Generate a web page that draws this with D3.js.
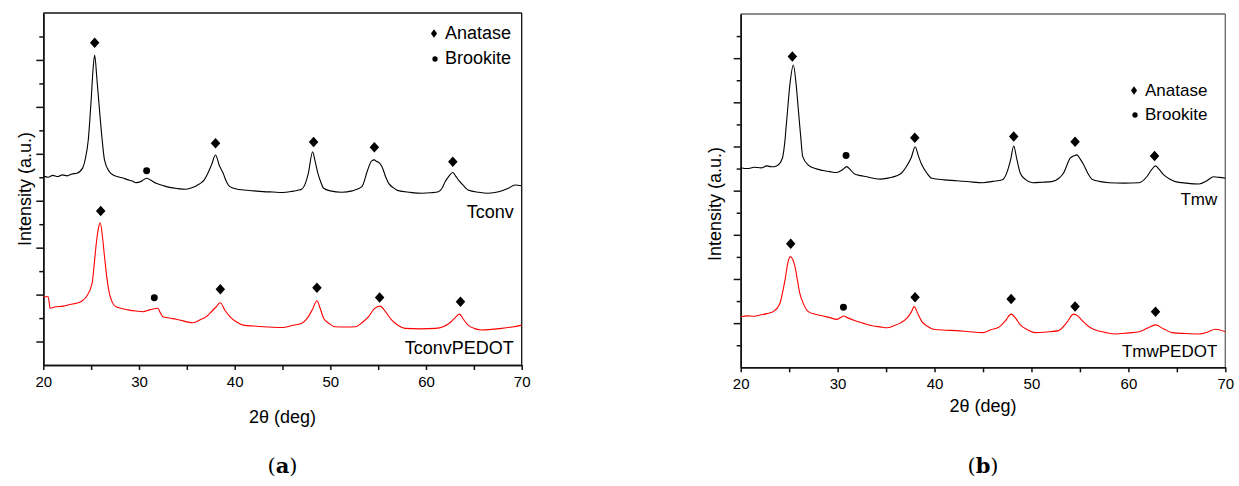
<!DOCTYPE html>
<html>
<head>
<meta charset="utf-8">
<script src="https://cdn.jsdelivr.net/npm/d3@7"></script>
<style>
  body { margin: 0; background: #fff; }
  text { font-family: "Liberation Sans", Arial, sans-serif; fill: #000; }
</style>
</head>
<body>
<script>
// 2theta (deg), intensity (a.u.)
let tconv = [[20,805],[20.5,800],[21,808],[21.5,803],[22,810],[22.5,806],[23,814],[23.5,817],[24.1,839],[24.4,880],[24.7,959],[25.0,1129],[25.2,1260],[25.37,1321],[25.6,1220],[25.9,1074],[26.15,960],[26.4,873],[26.9,824],[27.3,810],[27.8,802],[28.3,797],[28.8,790],[29.3,784],[29.7,777],[30.2,782],[30.5,790],[30.8,796],[31.2,788],[31.8,774],[32.5,765],[33.2,757],[34,752],[34.9,749],[35.6,756],[36.3,771],[36.8,788],[37.2,817],[37.6,855],[38.0,895],[38.4,850],[38.8,817],[39.1,785],[39.5,760],[40.2,750],[40.9,746],[42,742],[43,739],[44,737],[45,735],[46,740],[46.6,745],[47.0,749],[47.4,775],[47.7,817],[48.15,909],[48.4,870],[48.7,817],[49.0,780],[49.3,753],[50,742],[51.2,736],[52.3,742],[53.3,760],[53.9,831],[54.3,869],[54.6,874],[54.8,868],[55.0,865],[55.4,845],[55.8,800],[56.1,774],[56.6,755],[57.1,743],[58.3,736],[59.6,732],[60.5,734],[61.3,738],[61.7,755],[62.0,781],[62.4,805],[62.8,820],[63.1,805],[63.4,788],[63.9,765],[64.4,746],[65.5,736],[66.5,732],[67.6,738],[68.6,753],[69.3,767],[70,764]];
let tconvPedot = [[20,291],[20.5,291],[20.6,270],[20.7,242],[21.3,248],[22.1,251],[22.8,258],[23.45,263],[24,272],[24.5,291],[25.1,348],[25.3,420],[25.5,504],[25.75,580],[25.95,606],[26.2,540],[26.4,461],[26.65,370],[26.9,306],[27.2,268],[27.6,248],[28.3,240],[29.0,234],[29.7,230],[30.4,227],[31.2,236],[32.0,242],[32.2,225],[32.5,206],[33.2,200],[33.9,195],[34.8,186],[35.6,180],[36.5,195],[37.0,205],[37.4,220],[38.0,245],[38.5,265],[39.0,232],[39.5,206],[40.2,183],[40.9,170],[42,166],[43,163],[44,161],[45,160],[46,168],[47.0,178],[47.6,200],[48.1,234],[48.6,274],[48.95,240],[49.3,199],[49.9,176],[50.5,163],[51.5,162],[52.6,163],[53.3,180],[54.0,206],[54.6,240],[55.2,251],[55.8,225],[56.4,192],[57.1,168],[57.8,156],[59.4,154],[61.0,156],[62.5,180],[63.0,200],[63.5,217],[63.9,195],[64.4,170],[65.1,155],[65.8,149],[67.9,156],[69,162],[70,170]];
let tmw = [[20,904],[20.7,900],[21.4,906],[22.1,903],[22.7,912],[23.2,908],[23.7,912],[24.3,947],[24.55,1020],[24.75,1120],[25.1,1290],[25.43,1369],[25.7,1290],[25.95,1166],[26.2,1040],[26.4,954],[26.98,916],[27.7,900],[28.5,891],[29.2,886],[29.9,882],[30.5,895],[30.94,909],[31.3,895],[31.8,874],[32.4,868],[33.0,863],[33.7,856],[34.4,852],[35.3,858],[36.1,867],[36.6,880],[37.1,909],[37.6,950],[38.0,999],[38.35,955],[38.7,916],[39.2,880],[39.7,856],[41,849],[42.3,845],[43.6,840],[45.0,836],[46,842],[47.0,849],[47.5,886],[47.85,940],[48.17,1002],[48.5,940],[48.85,879],[49.4,850],[50.1,836],[51.1,838],[52.1,841],[52.8,855],[53.3,879],[54.0,947],[54.4,958],[54.7,962],[55.0,945],[55.4,916],[55.8,880],[56.25,852],[57,842],[58.0,836],[59.5,834],[61.1,836],[61.9,863],[62.4,895],[62.8,912],[63.2,895],[63.65,871],[64.3,852],[64.85,841],[66,834],[67.3,830],[68.1,845],[68.8,863],[69.4,860],[70,856]];
let tmwPedot = [[20,229],[20.7,233],[21.4,231],[22.0,237],[22.7,243],[23.36,252],[24.05,290],[24.3,335],[24.57,395],[24.85,470],[25.1,501],[25.35,490],[25.6,456],[25.85,395],[26.1,335],[26.5,285],[26.98,252],[27.7,240],[28.5,232],[29.2,225],[29.9,217],[30.3,225],[30.6,232],[31.0,225],[31.6,214],[32.6,200],[33.7,187],[34.4,183],[35.1,179],[35.8,188],[36.4,199],[37.2,225],[37.6,250],[37.9,275],[38.3,240],[38.7,207],[39.3,185],[39.9,172],[41.1,168],[42.3,166],[43.6,161],[45,157],[45.8,170],[46.6,181],[47.3,210],[47.9,241],[48.4,220],[48.85,192],[49.6,170],[50.4,157],[51.6,160],[52.8,166],[53.6,200],[54.35,241],[54.8,232],[55.2,214],[55.9,185],[56.6,169],[57.6,158],[58.65,151],[60,156],[61.1,161],[62,178],[62.8,192],[63.6,175],[64.5,157],[65.9,153],[67.3,151],[68.2,160],[68.95,172],[70,161]];

// phase markers
let tconvAnatase = [[25.37,1373],[38.0,945],[48.25,950],[54.6,928],[62.8,866]];
let tconvBrookite = [[30.8,828]];
let tconvPedotAnatase = [[26.0,656],[38.5,323],[48.6,329],[55.15,288],[63.6,270]];
let tconvPedotBrookite = [[31.6,287]];
let tmwAnatase = [[25.33,1407],[37.96,1040],[48.17,1045],[54.5,1022],[62.7,957]];
let tmwBrookite = [[30.87,959]];
let tmwPedotAnatase = [[25.16,559],[37.99,317],[47.9,309],[54.5,275],[62.8,252]];
let tmwPedotBrookite = [[30.6,272]];

let xMajor = [20,30,40,50,60,70];
let xMinor = [25,35,45,55,65];
let legendLabels = ["Anatase","Brookite"];

let svg = d3.select("body").append("svg").attr("width",1239).attr("height",486)

let diamond = d3.symbol(d3.symbolSquare, 50)
let dot = d3.symbol(d3.symbolCircle, 38)

function panel(p) {
  let x = d3.scaleLinear().domain([20,70]).range([p.left,p.right])
  let y = d3.scaleLinear().domain([0,p.ymax]).range([p.bottom,p.top])
  let g = svg.append("g")

  // frame
  g.append("line").attr("x1",p.left).attr("x2",p.right).attr("y1",p.top).attr("y2",p.top)
    .attr("stroke",p.frame).attr("stroke-width",1.3)
  g.append("line").attr("x1",p.right).attr("x2",p.right).attr("y1",p.top).attr("y2",p.bottom)
    .attr("stroke",p.frame).attr("stroke-width",1.3)

  let xa = g.append("g").attr("transform","translate(0,"+p.bottom+")")
    .call(d3.axisBottom(x).tickValues(xMajor).tickSize(5).tickSizeOuter(0).tickFormat(d3.format("d")))
  g.append("g").attr("transform","translate(0,"+p.bottom+")")
    .call(d3.axisBottom(x).tickValues(xMinor).tickSize(5).tickSizeOuter(0).tickFormat(""))
  xa.selectAll("text").attr("font-size",15).attr("dy","0.9em").attr("font-family","Liberation Sans, Arial, sans-serif")

  g.append("g").attr("transform","translate("+p.left+",0)")
    .call(d3.axisLeft(y).tickValues(p.yMajor).tickSize(7).tickSizeOuter(0).tickFormat(""))
  g.append("g").attr("transform","translate("+p.left+",0)")
    .call(d3.axisLeft(y).tickValues(p.yMinor).tickSize(4).tickSizeOuter(0).tickFormat(""))

  g.selectAll(".domain, .tick line").attr("stroke","#111").attr("stroke-width",1.5)

  let line = d3.line().x(d=>x(d[0])).y(d=>y(d[1])).curve(d3.curveMonotoneX)
  g.append("path").datum(p.top1).attr("d",line).attr("fill","none").attr("stroke","#000").attr("stroke-width",1.1)
  g.append("path").datum(p.bot1).attr("d",line).attr("fill","none").attr("stroke","#ff0000").attr("stroke-width",1.1)

  g.selectAll(".ana").data(p.anatase).enter().append("path")
    .attr("d",diamond)
    .attr("transform",d=>"translate("+x(d[0])+","+y(d[1])+") scale(0.95,1.05) rotate(45)")
  g.selectAll(".bro").data(p.brookite).enter().append("path")
    .attr("d",dot)
    .attr("transform",d=>"translate("+x(d[0])+","+y(d[1])+")")

  // legend
  let lg = g.append("g")
  lg.append("path").attr("d",d3.symbol(d3.symbolSquare,26))
    .attr("transform","translate("+p.legX+","+(p.legY-5.5)+") scale(0.85,1.15) rotate(45)")
  lg.append("path").attr("d",d3.symbol(d3.symbolCircle,22))
    .attr("transform","translate("+(p.legX+1)+","+(p.legY+p.legGap-5)+")")
  lg.selectAll("text").data(legendLabels).enter().append("text")
    .attr("x",p.legX+11).attr("y",(d,i)=>p.legY+i*p.legGap)
    .attr("font-size",p.fs).text(d=>d)

  g.append("text").attr("x",p.right-8).attr("y",p.lab1Y).attr("text-anchor","end")
    .attr("font-size",p.fs).text(p.name1)
  g.append("text").attr("x",p.right-8).attr("y",p.lab2Y).attr("text-anchor","end")
    .attr("font-size",p.fs).text(p.name2)

  g.append("text").attr("x",(p.left+p.right)/2).attr("y",p.xtY).attr("text-anchor","middle")
    .attr("font-size",18).text("2θ (deg)")
  g.append("text").attr("transform","translate("+p.ytX+","+p.ytY+") rotate(-90)")
    .attr("text-anchor","middle").attr("font-size",18).text("Intensity (a.u.)")

  let cap = g.append("text").attr("x",(p.left+p.right)/2).attr("y",473).attr("text-anchor","middle")
    .attr("font-size",21).style("font-family","DejaVu Serif, serif")
  cap.append("tspan").text("(")
  cap.append("tspan").attr("font-weight","bold").text(p.cap)
  cap.append("tspan").text(")")
}

panel({left:43.3,right:521.7,top:13,bottom:365,ymax:1500,
  yMajor:[100,300,500,700,900,1100,1300],yMinor:[200,400,600,800,1000,1200,1400],
  frame:"#111",top1:tconv,bot1:tconvPedot,
  anatase:tconvAnatase.concat(tconvPedotAnatase),brookite:tconvBrookite.concat(tconvPedotBrookite),
  legX:434,legY:39,legGap:25,fs:18,name1:"Tconv",name2:"TconvPEDOT",lab1Y:218,lab2Y:354,
  xtY:423,ytX:31,ytY:189,cap:"a"})

panel({left:740.7,right:1225.3,top:14,bottom:367.3,ymax:1600,
  yMajor:[200,400,600,800,1000,1200,1400],yMinor:[100,300,500,700,900,1100,1300,1500],
  frame:"#666",top1:tmw,bot1:tmwPedot,
  anatase:tmwAnatase.concat(tmwPedotAnatase),brookite:tmwBrookite.concat(tmwPedotBrookite),
  legX:1134,legY:96,legGap:24,fs:17,name1:"Tmw",name2:"TmwPEDOT",lab1Y:205,lab2Y:357,
  xtY:412,ytX:721,ytY:204,cap:"b"})
</script>
</body>
</html>
